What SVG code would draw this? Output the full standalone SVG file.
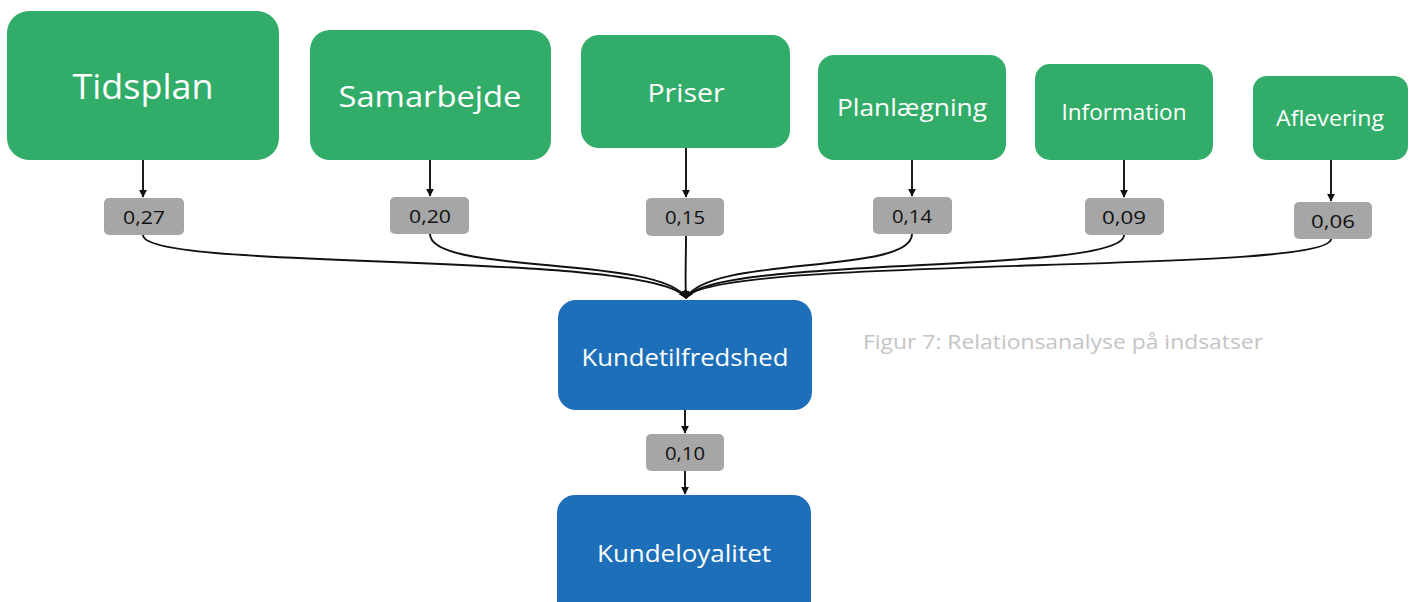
<svg xmlns="http://www.w3.org/2000/svg" width="1413" height="602" viewBox="0 0 1413 602">
<style>
.g{fill:#31ad69}
.b{fill:#1c6fb8}
.w{fill:#a6a6a6}
.t{font-family:"Open Sans","Liberation Sans",sans-serif;fill:#fff;text-anchor:middle;dominant-baseline:central}
.n{font-family:"Open Sans","Liberation Sans",sans-serif;fill:#111;text-anchor:middle;dominant-baseline:central;font-size:18px}
.c{fill:none;stroke:#111;stroke-width:1.9}
</style>
<defs>
<marker id="a" viewBox="0 0 10 10" refX="9" refY="5" markerWidth="8" markerHeight="8" markerUnits="userSpaceOnUse" orient="auto"><path d="M0,0L10,5L0,10z" fill="#111"/></marker>
</defs>
<rect width="1413" height="602" fill="#fff"/>
<g id="connectors">
<path class="c" d="M143,160V197" marker-end="url(#a)"/>
<path class="c" d="M430,160V196" marker-end="url(#a)"/>
<path class="c" d="M686,148V197" marker-end="url(#a)"/>
<path class="c" d="M912,160V196" marker-end="url(#a)"/>
<path class="c" d="M1124,160V197" marker-end="url(#a)"/>
<path class="c" d="M1331,160V201" marker-end="url(#a)"/>
<path class="c" d="M143,235C143,272 655,250 686,298" marker-end="url(#a)"/>
<path class="c" d="M430,234C430,275 660,255 686,298" marker-end="url(#a)"/>
<path class="c" d="M686,236C686,260 685,280 686,298" marker-end="url(#a)"/>
<path class="c" d="M912,234C912,275 710,255 686,298" marker-end="url(#a)"/>
<path class="c" d="M1124,235C1124,275 710,255 686,298" marker-end="url(#a)"/>
<path class="c" d="M1331,239C1331,275 710,255 686,298" marker-end="url(#a)"/>
<path class="c" d="M685,410V433" marker-end="url(#a)"/>
<path class="c" d="M685,471V494" marker-end="url(#a)"/>
</g>
<g id="tidsplan"><rect class="g" x="7" y="11" width="272" height="149" rx="22"/><text class="t" x="143" y="86" font-size="34" textLength="141" lengthAdjust="spacingAndGlyphs">Tidsplan</text></g>
<g id="samarbejde"><rect class="g" x="310" y="30" width="241" height="130" rx="20"/><text class="t" x="430" y="95" font-size="30" textLength="183" lengthAdjust="spacingAndGlyphs">Samarbejde</text></g>
<g id="priser"><rect class="g" x="581" y="35" width="209" height="113" rx="18"/><text class="t" x="686" y="92" font-size="26" textLength="77" lengthAdjust="spacingAndGlyphs">Priser</text></g>
<g id="planlaegning"><rect class="g" x="818" y="55" width="188" height="105" rx="16"/><text class="t" x="912" y="107" font-size="23" textLength="150" lengthAdjust="spacingAndGlyphs">Planlægning</text></g>
<g id="information"><rect class="g" x="1035" y="64" width="178" height="96" rx="15"/><text class="t" x="1124" y="112" font-size="21" textLength="125" lengthAdjust="spacingAndGlyphs">Information</text></g>
<g id="aflevering"><rect class="g" x="1253" y="76" width="155" height="84" rx="14"/><text class="t" x="1330" y="118" font-size="21" textLength="108" lengthAdjust="spacingAndGlyphs">Aflevering</text></g>
<g id="w027"><rect class="w" x="104" y="198" width="80" height="37" rx="5"/><text class="n" x="144" y="217" textLength="42" lengthAdjust="spacingAndGlyphs">0,27</text></g>
<g id="w020"><rect class="w" x="390" y="197" width="79" height="37" rx="5"/><text class="n" x="430" y="216" textLength="42" lengthAdjust="spacingAndGlyphs">0,20</text></g>
<g id="w015"><rect class="w" x="646" y="198" width="78" height="38" rx="5"/><text class="n" x="685" y="217" textLength="40" lengthAdjust="spacingAndGlyphs">0,15</text></g>
<g id="w014"><rect class="w" x="873" y="197" width="79" height="37" rx="5"/><text class="n" x="912" y="216" textLength="40" lengthAdjust="spacingAndGlyphs">0,14</text></g>
<g id="w009"><rect class="w" x="1085" y="198" width="79" height="37" rx="5"/><text class="n" x="1124" y="217" textLength="44" lengthAdjust="spacingAndGlyphs">0,09</text></g>
<g id="w006"><rect class="w" x="1294" y="202" width="78" height="37" rx="5"/><text class="n" x="1333" y="221" textLength="44" lengthAdjust="spacingAndGlyphs">0,06</text></g>
<g id="kundetilfredshed"><rect class="b" x="558" y="300" width="254" height="110" rx="18"/><text class="t" x="685" y="356" font-size="24" textLength="207" lengthAdjust="spacingAndGlyphs">Kundetilfredshed</text></g>
<g id="w010"><rect class="w" x="646" y="434" width="78" height="37" rx="5"/><text class="n" x="685" y="453" textLength="40" lengthAdjust="spacingAndGlyphs">0,10</text></g>
<g id="kundeloyalitet"><rect class="b" x="557" y="495" width="254" height="130" rx="18"/><text class="t" x="684" y="552" font-size="24" textLength="174" lengthAdjust="spacingAndGlyphs">Kundeloyalitet</text></g>
<text x="863" y="341" font-family="Open Sans,Liberation Sans,sans-serif" font-size="20" fill="#c4c4c4" dominant-baseline="central" textLength="400" lengthAdjust="spacingAndGlyphs">Figur 7: Relationsanalyse på indsatser</text>
</svg>
